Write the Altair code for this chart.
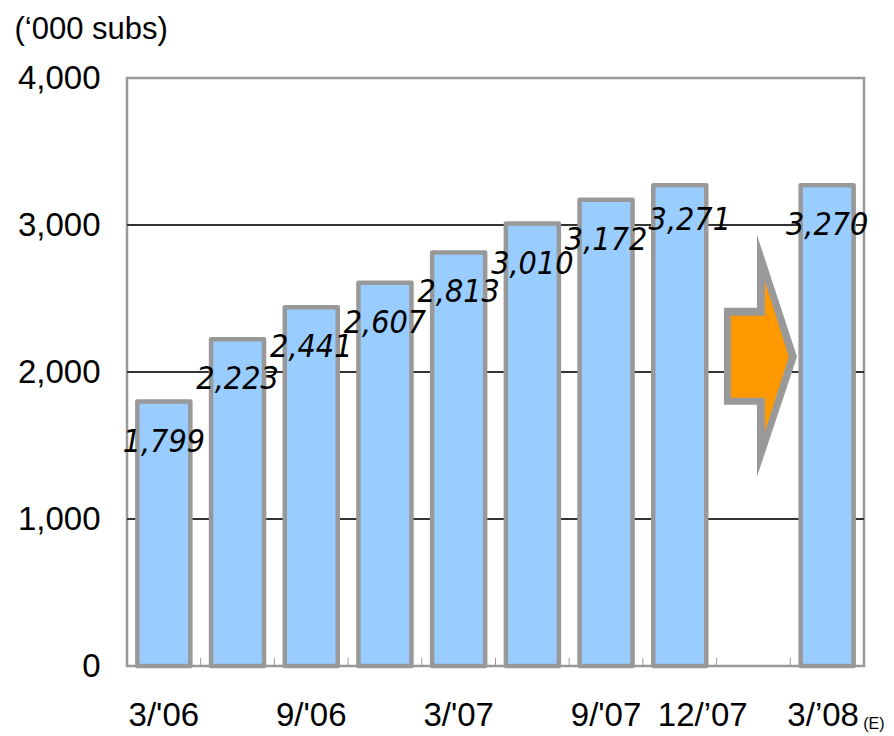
import altair as alt
import pandas as pd

# ---- data ----
slots = ["3/'06", "6/'06", "9/'06", "12/'06", "3/'07", "6/'07", "9/'07", "12/'07", "gap", "3/'08"]
bar_cats = ["3/'06", "6/'06", "9/'06", "12/'06", "3/'07", "6/'07", "9/'07", "12/'07", "3/'08"]
bar_vals = [1799, 2223, 2441, 2607, 2813, 3010, 3172, 3271, 3270]
grid_vals = [1000, 2000, 3000]
ytick_vals = [0, 1000, 2000, 3000, 4000]
xlabel_cats = ["3/'06", "9/'06", "3/'07", "9/'07", "12/'07", "3/'08"]
xlabel_text = ["3/'06", "9/'06", "3/'07", "9/'07", "12/\u201907", "3/\u201908"]
tick_cats = slots[1:]
arrow_cat = ["gap"]
arrow_val = [2110]
y_title = "(\u2018000 subs)"

bars_df = pd.DataFrame({"cat": bar_cats, "v": bar_vals})
grid_df = pd.DataFrame({"v": grid_vals})
xl_df = pd.DataFrame({"cat": xlabel_cats, "t": xlabel_text})
tick_df = pd.DataFrame({"cat": tick_cats})
arrow_df = pd.DataFrame({"cat": arrow_cat, "v": arrow_val})

FONT = "Liberation Sans"
VFONT = "'DejaVu Sans Condensed', 'Liberation Sans', sans-serif"
x_scale = alt.Scale(domain=slots, paddingInner=0, paddingOuter=0)
y_scale = alt.Scale(domain=[0, 4000], nice=False)
y_axis = alt.Axis(
    values=ytick_vals, labelExpr="format(datum.value, ',')", grid=False, domain=False, ticks=False,
    labelFont=FONT, labelFontSize=33, labelColor="black", labelPadding=27,
    title=y_title, titleAngle=0, titleAlign="left", titleBaseline="alphabetic",
    titleX=-113, titleY=-40, titleFont=FONT, titleFontSize=31,
    titleFontWeight="normal", titleColor="black",
)

X = lambda **kw: alt.X("cat:N", scale=x_scale, axis=None, **kw)
Y = alt.Y("v:Q", scale=y_scale, axis=y_axis)

grid = alt.Chart(grid_df).mark_rule(color="#333333", strokeWidth=2).encode(y=Y)

ticks = alt.Chart(tick_df).mark_rule(color="#999999", strokeWidth=1).encode(
    x=X(bandPosition=0), y=alt.value(588), y2=alt.value(580)
)

bars = alt.Chart(bars_df).mark_bar(
    width=53, fill="#99CCFF", stroke="#999999", strokeWidth=4.5, strokeJoin="round"
).encode(x=X(), y=Y)

lab_style = dict(font=VFONT, fontStyle="italic", fontSize=32,
                 baseline="middle", color="black")
vals_main = alt.Chart(bars_df).transform_filter(alt.datum.cat != "12/'07").mark_text(
    dy=40, **lab_style).encode(x=X(), y=Y, text=alt.Text("v:Q", format=","))
vals_shift = alt.Chart(bars_df).transform_filter(alt.datum.cat == "12/'07").mark_text(
    dy=35, dx=10, **lab_style).encode(x=X(), y=Y, text=alt.Text("v:Q", format=","))

xl_style = dict(font=FONT, fontSize=33, baseline="alphabetic", color="black")
xl_main = alt.Chart(xl_df).transform_filter(
    (alt.datum.cat != "12/'07") & (alt.datum.cat != "3/'08")
).mark_text(**xl_style).encode(x=X(), y=alt.value(648), text="t:N")
xl_12 = alt.Chart(xl_df).transform_filter(alt.datum.cat == "12/'07").mark_text(
    dx=23, **xl_style).encode(x=X(), y=alt.value(648), text="t:N")
xl_08 = alt.Chart(xl_df).transform_filter(alt.datum.cat == "3/'08").mark_text(
    dx=-4, **xl_style).encode(x=X(), y=alt.value(648), text="t:N")
xl_e = alt.Chart(xl_df).transform_filter(alt.datum.cat == "3/'08").mark_text(
    dx=36, font=FONT, fontSize=16, align="left", baseline="alphabetic", color="black"
).encode(x=X(), y=alt.value(651), text=alt.value("(E)"))

outer_path = "M -0.244 -0.397 L 0.029 -0.397 L 0.029 -1 L 0.36 0.008 L 0.029 1 L 0.029 0.405 L -0.244 0.405 Z"
inner_path = "M -0.186 -0.331 L 0.095 -0.331 L 0.095 -0.612 L 0.293 0.008 L 0.095 0.628 L 0.095 0.347 L -0.186 0.347 Z"
arrow_outer = alt.Chart(arrow_df).mark_point(
    shape=outer_path, filled=True, fill="#999999", opacity=1, strokeWidth=0, size=58564
).encode(x=X(), y=Y)
arrow_inner = alt.Chart(arrow_df).mark_point(
    shape=inner_path, filled=True, fill="#FF9900", opacity=1, strokeWidth=0, size=58564
).encode(x=X(), y=Y)

chart = alt.layer(
    grid, ticks, bars, arrow_outer, arrow_inner,
    vals_main, vals_shift, xl_main, xl_12, xl_08, xl_e
).properties(
    width=737, height=588,
    autosize=alt.AutoSizeParams(type="none"),
    padding={"left": 119, "top": 70, "right": 22, "bottom": 70},
).configure_view(stroke="#999999", strokeWidth=2.5)

chart.save("out.html", embed_options={"renderer": "svg", "actions": False})
